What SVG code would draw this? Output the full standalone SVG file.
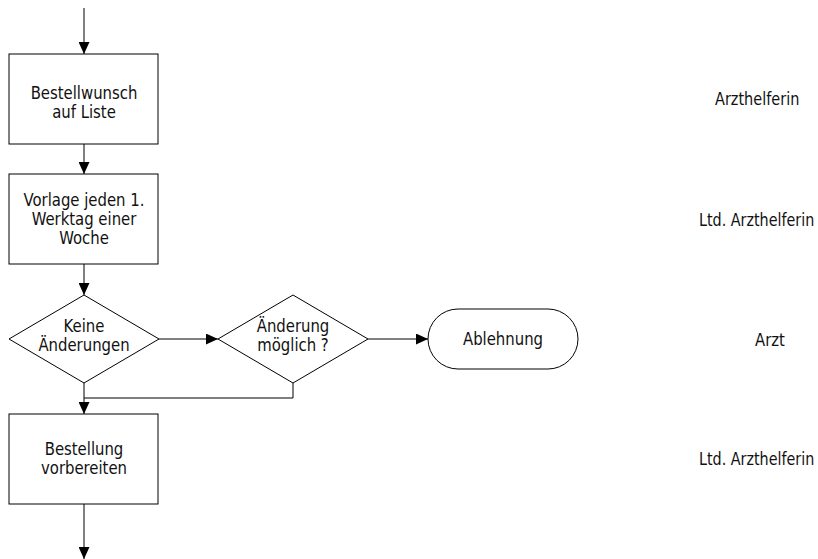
<svg xmlns="http://www.w3.org/2000/svg" width="818" height="559" viewBox="0 0 818 559">
<defs>
<marker id="ah" viewBox="0 0 12 11" refX="12" refY="5.5" markerWidth="12" markerHeight="11" markerUnits="userSpaceOnUse" orient="auto">
<path d="M0,0 L12,5.5 L0,11 Z" fill="#000"/>
</marker>
<style>
.s{fill:#fff;stroke:#000;stroke-width:1}
.c{fill:none;stroke:#000;stroke-width:1}
text{font-family:"DejaVu Sans Condensed","DejaVu Sans",sans-serif;font-stretch:condensed;font-size:17.5px;fill:#111}
.m{text-anchor:middle}
</style>
</defs>
<rect width="818" height="559" fill="#fff"/>
<g id="connectors">
<line class="c" x1="84" y1="8" x2="84" y2="54" marker-end="url(#ah)"/>
<line class="c" x1="84" y1="144" x2="84" y2="174" marker-end="url(#ah)"/>
<line class="c" x1="84" y1="264" x2="84" y2="295" marker-end="url(#ah)"/>
<line class="c" x1="159" y1="339" x2="218" y2="339" marker-end="url(#ah)"/>
<line class="c" x1="368" y1="339" x2="428" y2="339" marker-end="url(#ah)"/>
<polyline class="c" points="293,383 293,398 84,398"/>
<line class="c" x1="84" y1="383" x2="84" y2="414" marker-end="url(#ah)"/>
<line class="c" x1="84" y1="504" x2="84" y2="559" marker-end="url(#ah)"/>
</g>
<g id="n1">
<rect class="s" x="9" y="54" width="149" height="90"/>
<text class="m" transform="translate(84 99) scale(0.945 1)">Bestellwunsch</text>
<text class="m" transform="translate(84 117.5) scale(0.945 1)">auf Liste</text>
</g>
<g id="n2">
<rect class="s" x="9" y="174" width="149" height="90"/>
<text class="m" transform="translate(84 206) scale(0.945 1)">Vorlage jeden 1.</text>
<text class="m" transform="translate(84 225) scale(0.945 1)">Werktag einer</text>
<text class="m" transform="translate(84 244) scale(0.945 1)">Woche</text>
</g>
<g id="n3">
<polygon class="s" points="84,295 159,339 84,383 9,339"/>
<text class="m" transform="translate(84 332) scale(0.945 1)">Keine</text>
<text class="m" transform="translate(84 351) scale(0.945 1)">Änderungen</text>
</g>
<g id="n4">
<polygon class="s" points="293,295 368,339 293,383 218,339"/>
<text class="m" transform="translate(293 332) scale(0.945 1)">Änderung</text>
<text class="m" transform="translate(293 351) scale(0.945 1)">möglich ?</text>
</g>
<g id="n5">
<rect class="s" x="428" y="309" width="150" height="60" rx="30" ry="30"/>
<text class="m" transform="translate(503 345) scale(0.945 1)">Ablehnung</text>
</g>
<g id="n6">
<rect class="s" x="9" y="414" width="149" height="90"/>
<text class="m" transform="translate(84 455) scale(0.945 1)">Bestellung</text>
<text class="m" transform="translate(84 474) scale(0.945 1)">vorbereiten</text>
</g>
<g id="labels">
<text transform="translate(715 105) scale(0.92 1)">Arzthelferin</text>
<text transform="translate(699 226) scale(0.91 1)">Ltd. Arzthelferin</text>
<text transform="translate(755 345.5) scale(0.945 1)">Arzt</text>
<text transform="translate(699 465) scale(0.91 1)">Ltd. Arzthelferin</text>
</g>
</svg>
